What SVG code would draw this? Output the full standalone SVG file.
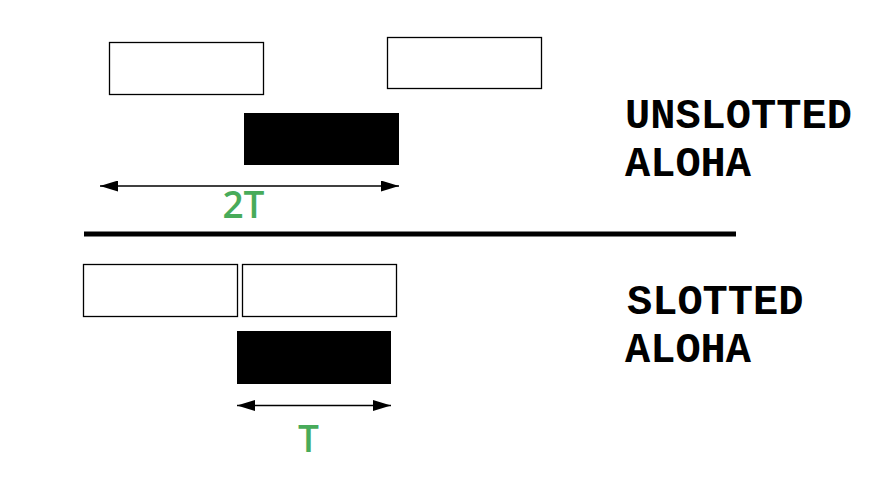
<svg xmlns="http://www.w3.org/2000/svg" width="872" height="482" viewBox="0 0 872 482">
<defs>
<style>
.slot{fill:#fff;stroke:#000;stroke-width:1.3}
.burst{fill:#000}
.dim{stroke:#000;stroke-width:1.5;fill:none;marker-start:url(#ah);marker-end:url(#ah)}
.lbl{font-family:"Open Sans","Noto Sans",sans-serif;font-weight:600;fill:#48ab5a;text-anchor:middle}
.title{font-family:"Liberation Mono","Courier New",monospace;font-weight:bold;font-size:42px;fill:#000}
</style>
<marker id="ah" viewBox="0 0 18 11" refX="18" refY="5.5" markerWidth="18" markerHeight="11" markerUnits="userSpaceOnUse" orient="auto-start-reverse">
<path d="M0,0 L18,5.5 L0,11 Z" fill="#000"/>
</marker>
</defs>
<rect width="872" height="482" fill="#fff"/>
<g id="unslotted-frame-1"><rect class="slot" x="109.5" y="42.5" width="154" height="52"/></g>
<g id="unslotted-frame-2"><rect class="slot" x="387.5" y="37.5" width="154" height="51"/></g>
<g id="unslotted-vulnerable"><rect class="burst" x="244" y="113" width="155" height="52"/></g>
<g id="slotted-frame-1"><rect class="slot" x="83.5" y="264.5" width="154" height="52"/></g>
<g id="slotted-frame-2"><rect class="slot" x="242.5" y="264.5" width="154" height="52"/></g>
<g id="slotted-vulnerable"><rect class="burst" x="237" y="331" width="154" height="53"/></g>
<g id="connectors">
<line class="dim" x1="100" y1="186" x2="399" y2="186"/>
<line class="dim" x1="237" y1="405.5" x2="391" y2="405.5"/>
<line x1="84" y1="234" x2="736" y2="234" stroke="#000" stroke-width="5"/>
</g>
<g id="labels">
<text class="lbl" x="243.5" y="217.5" font-size="37">2T</text>
<text class="lbl" x="308.5" y="452" font-size="37">T</text>
<text class="title" x="625" y="128">UNSLOTTED</text>
<text class="title" x="625" y="176">ALOHA</text>
<text class="title" x="627" y="314">SLOTTED</text>
<text class="title" x="625" y="362">ALOHA</text>
</g>
</svg>
